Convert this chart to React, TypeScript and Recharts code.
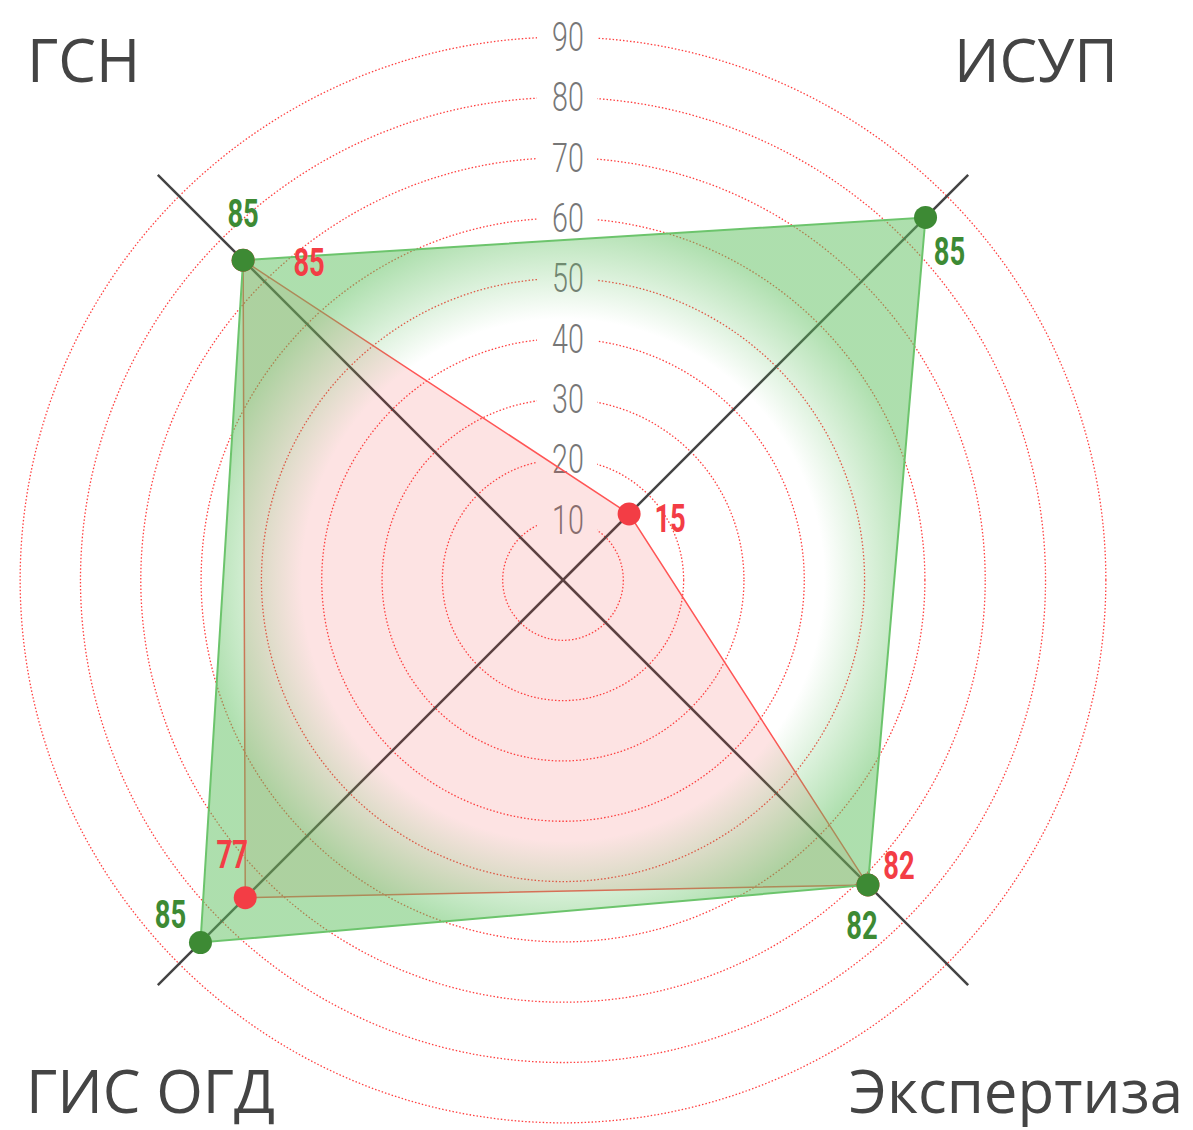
import React from "react";
import { RadarChart, Radar, PolarGrid, PolarAngleAxis, PolarRadiusAxis } from "recharts";

// categories clockwise from top-left
const categories = ["ГСН", "ИСУП", "Экспертиза", "ГИС ОГД"];
// plotted values (as placed in the picture)
const greenValues = [75, 85, 71.5, 85];
const redValues = [75, 15.5, 71.5, 74.5];
// numbers written beside the points
const greenLabels = ["85", "85", "82", "85"];
const redLabels = ["85", "15", "82", "77"];
const radiusTicks = [10, 20, 30, 40, 50, 60, 70, 80, 90];

const data = categories.map((name, i) => ({ name, green: greenValues[i], red: redValues[i] }));

const W = 1193;
const H = 1130;
const CX = 563;
const CY = 580;

const GREEN = "#3d8a34";
const RED = "#f33d45";

// label offsets relative to each point
const greenLabelOffset = [[0, -46], [24, 34], [-6, 41], [-30, -28]];
const redLabelOffset = [[66, 3], [41, 5], [31, -19], [-13, -43]];

// corner titles: x, anchor
const titlePos: [number, string][] = [
  [27, "start"],
  [1118, "end"],
  [1183, "end"],
  [26, "start"],
];

const AngleTick = (props: any) => {
  const i = props.payload?.index ?? props.index;
  const [x, anchor] = titlePos[i];
  const y = i < 2 ? 82 : 1113;
  return (
    <text x={x} y={y} textAnchor={anchor as any} fill="#444" fontSize={60}
      fontFamily="'Open Sans', sans-serif" fontWeight={400}>
      {props.payload.value}
    </text>
  );
};

const RadiusTick = (props: any) => {
  const { x, y, payload } = props;
  if (!radiusTicks.includes(payload.value)) return <g />;
  return (
    <g>
      <rect x={x - 26} y={y - 16} width={60} height={32} fill="#fff" />
      <text transform={`translate(${x + 5},${y}) scale(0.7,1)`} textAnchor="middle"
        dominantBaseline="central" fill="#777" fontSize={41} fontWeight={300}
        fontFamily="Roboto, sans-serif">
        {payload.value}
      </text>
    </g>
  );
};

const makeLabel = (labels: string[], offsets: number[][], color: string) => (props: any) => {
  const { x, y, index } = props;
  const [dx, dy] = offsets[index];
  return (
    <text key={`l-${color}-${index}`} transform={`translate(${x + dx},${y + dy}) scale(0.72,1)`}
      textAnchor="middle" dominantBaseline="central" fill={color} fontSize={38}
      fontWeight={700} fontFamily="Roboto, sans-serif">
      {labels[index]}
    </text>
  );
};

const makeDot = (color: string) => (props: any) => {
  const { cx, cy, index } = props;
  return <circle key={`d-${color}-${index}`} cx={cx} cy={cy} r={11.5} fill={color} />;
};

export default function App() {
  return (
    <div style={{ position: "absolute", left: 0, top: 0, width: W, height: H, background: "#fff" }}>
      <svg width={0} height={0} style={{ position: "absolute" }}>
        <defs>
          <radialGradient id="greenFill" cx="0.5" cy="0.5" r="0.5">
            <stop offset="0" stopColor="#5cbf5c" stopOpacity={0} />
            <stop offset="0.72" stopColor="#5cbf5c" stopOpacity={0} />
            <stop offset="1" stopColor="#5cbf5c" stopOpacity={0.5} />
          </radialGradient>
        </defs>
      </svg>
      <RadarChart width={W} height={H} data={data} cx={CX} cy={CY} outerRadius={573}
        startAngle={135} endAngle={-225} margin={{ top: 0, right: 0, bottom: 0, left: 0 }}>
        <PolarGrid gridType="circle" radialLines={false} stroke="#ff4040" strokeWidth={1.3}
          strokeDasharray="1.5 2" />
        <PolarGrid gridType="circle" polarRadius={[]} radialLines stroke="#444" strokeWidth={2.5} />
        <PolarAngleAxis dataKey="name" tick={<AngleTick />} axisLine={false} tickLine={false} />
        <PolarRadiusAxis angle={90} domain={[0, 95]} ticks={radiusTicks} axisLine={false}
          tickLine={false} tick={<RadiusTick />} zIndex={50} />
        <Radar dataKey="red" stroke="#f55" strokeWidth={1.5} fill="#f03c3c" fillOpacity={0.14}
          dot={makeDot(RED)} label={makeLabel(redLabels, redLabelOffset, RED)}
          isAnimationActive={false} />
        <Radar dataKey="green" stroke="#6cc46c" strokeWidth={2} fill="url(#greenFill)" fillOpacity={1}
          dot={makeDot(GREEN)} label={makeLabel(greenLabels, greenLabelOffset, GREEN)}
          isAnimationActive={false} />
      </RadarChart>
    </div>
  );
}
